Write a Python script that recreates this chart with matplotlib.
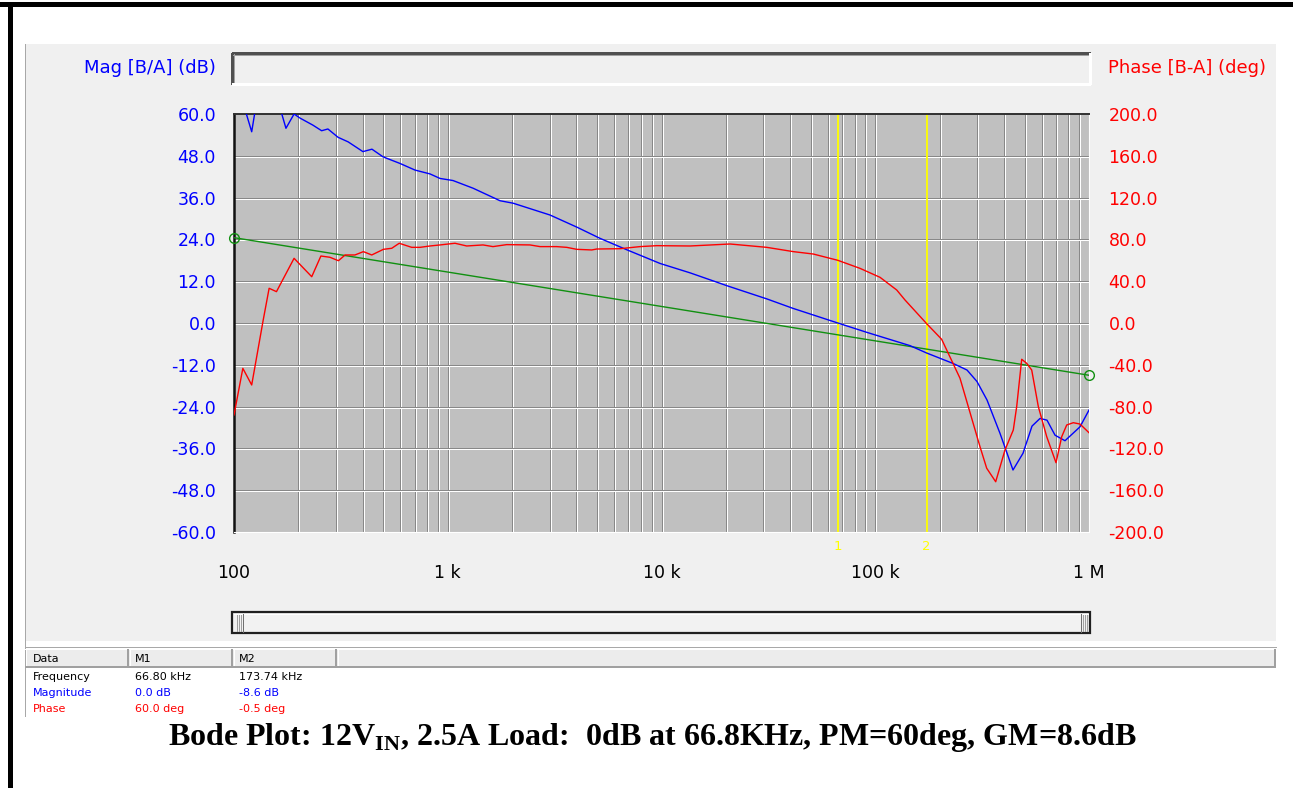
import numpy as np
import matplotlib
matplotlib.use("Agg")
import matplotlib.pyplot as plt
from matplotlib import transforms
from matplotlib.patches import Rectangle

W, H, DPI = 1293, 788, 100

# Marker readouts
m1_freq, m1_mag, m1_phase = 66.80e3, 0.0, 60.0
m2_freq, m2_mag, m2_phase = 173.74e3, -8.6, -0.5

# Loop gain magnitude (dB)
mag_freq = [100, 114, 121, 125, 135, 156, 167, 175, 191, 204,
            234, 257, 275, 307, 342, 401, 442, 498, 598, 703,
            826, 920, 1058, 1313, 1756, 2020, 3009, 4024, 5157, 6896,
            9840, 13600, 20470, 31160, 41230, 91500, 145400, 231000, 268700, 299200,
            333300, 383500, 441000, 491200, 541200, 590000, 636200, 693400, 772200, 907700,
            1000000]
mag_db = [63.5, 60.2, 54.9, 60.2, 63.0, 62.0, 60.2, 55.9, 60.0, 58.8,
          56.8, 55.2, 55.7, 53.3, 52.0, 49.2, 49.9, 47.7, 45.8, 43.9,
          42.8, 41.5, 40.9, 38.7, 35.1, 34.4, 31.0, 27.5, 24.3, 21.0,
          17.1, 14.4, 10.6, 6.9, 4.2, -2.7, -6.5, -11.6, -13.5, -16.8,
          -22.1, -31.7, -42.2, -37.4, -29.6, -27.4, -27.9, -32.2, -33.8, -29.8,
          -25.0]

# Loop gain phase (deg)
phase_freq = [100, 110, 121, 137, 146, 158, 191, 231, 255, 281,
              308, 331, 368, 403, 441, 500, 547, 593, 678, 742,
              826, 920, 1081, 1227, 1462, 1628, 1887, 2425, 2702, 3233,
              3602, 4012, 4716, 4978, 6395, 7931, 9495, 13600, 20920, 31070,
              41360, 51310, 84850, 105300, 126000, 137800, 204500, 249200, 309100, 332200,
              366000, 404600, 442400, 458900, 484300, 511100, 539500, 579300, 634200, 701000,
              745300, 786600, 844500, 907700, 1000000]
phase_deg = [-88, -43.4, -59.3, 2.9, 33.2, 30.0, 61.9, 44.3, 64.1, 62.9,
             59.6, 65.1, 65.1, 68.3, 65.1, 70.5, 71.5, 76.3, 72.4, 72.4,
             73.7, 74.7, 76.3, 73.7, 74.7, 73.1, 75.0, 74.7, 73.1, 73.1,
             72.4, 70.5, 69.9, 70.8, 71.1, 73.1, 74.0, 73.7, 75.6, 72.4,
             68.3, 66.0, 52.3, 43.7, 31.6, 22.0, -15.6, -52.9, -118.4, -139.0,
             -151.9, -121.5, -102.4, -80.0, -34.7, -38.6, -45.0, -80.0, -108.8, -133.7,
             -108.8, -97.6, -95.4, -96.7, -105.0]

# Reference slope trace (dB)
ref_freq = [100, 1e6]
ref_db = [24.5, -15.0]

mag_ticks = [60, 48, 36, 24, 12, 0, -12, -24, -36, -48, -60]
phase_ticks = [200, 160, 120, 80, 40, 0, -40, -80, -120, -160, -200]
freq_ticks = [1e2, 1e3, 1e4, 1e5, 1e6]
freq_labels = ["100", "1 k", "10 k", "100 k", "1 M"]


def with_markers(f, v, pts):
    f = np.array(list(f) + [p[0] for p in pts], float)
    v = np.array(list(v) + [p[1] for p in pts], float)
    o = np.argsort(f)
    return f[o], v[o]


mf, mv = with_markers(mag_freq, mag_db, [(m1_freq, m1_mag), (m2_freq, m2_mag)])
pf, pv = with_markers(phase_freq, phase_deg, [(m1_freq, m1_phase), (m2_freq, m2_phase)])

plt.rcParams['font.family'] = ['DejaVu Sans']
plt.rcParams['mathtext.fontset'] = 'custom'
plt.rcParams['mathtext.rm'] = 'Liberation Serif:bold'
plt.rcParams['mathtext.bf'] = 'Liberation Serif:bold'

fig = plt.figure(figsize=(W / DPI, H / DPI), dpi=DPI, facecolor='white')

# ---- window chrome drawn in pixel coordinates ----
deco = fig.add_axes([0, 0, 1, 1], zorder=0)
deco.set_xlim(0, W)
deco.set_ylim(H, 0)
deco.axis('off')

def hline(y, x0, x1, c, lw=0.72):
    deco.plot([x0, x1], [y, y], color=c, lw=lw, antialiased=False, solid_capstyle='butt')

def vline(x, y0, y1, c, lw=0.72):
    deco.plot([x, x], [y0, y1], color=c, lw=lw, antialiased=False, solid_capstyle='butt')

# outer frame
hline(4, 0, W, 'black', 2.2)
vline(10, 4, H, 'black', 2.2)

# main grey panel
deco.add_patch(Rectangle((25, 44), 1276 - 25, 641 - 44, fc='#f0f0f0', ec='none'))
vline(25, 44, 716, '#a8a8a8')
hline(647, 25, 1276, '#a8a8a8')

# header box above the plot
deco.add_patch(Rectangle((232, 53), 858, 31, fc='#f0f0f0', ec='none'))
hline(53, 232, 1090, '#505050', 1.0)
vline(232, 53, 84, '#505050', 1.0)
hline(54.5, 233, 1089, '#a0a0a0')
vline(233.5, 54, 84, '#a0a0a0')
hline(84, 232, 1090, 'white', 1.0)
vline(1090, 53, 84, 'white', 1.0)

# scrollbar
deco.add_patch(Rectangle((232, 612), 858, 21, fc='#f2f2f2', ec='#202020', lw=1.6))
hline(614, 234, 1088, 'white')
for gx in (237, 239, 241, 1083, 1085, 1087):
    vline(gx, 615, 631, '#a0a0a0')
vline(243, 614, 632, '#707070')
vline(1081, 614, 632, '#707070')

# data table header
for x0, x1 in ((25, 129), (129, 233), (233, 337), (337, 1276)):
    deco.add_patch(Rectangle((x0, 649), x1 - x0, 18, fc='#ececec', ec='none'))
    hline(649, x0, x1, 'white')
    vline(x0 + 1, 649, 667, 'white')
    vline(x1 - 1, 649, 667, '#a0a0a0', 1.2)
    hline(667, x0, x1, '#a0a0a0', 1.2)

tfs = 8
deco.text(33, 659, "Data", fontsize=tfs, va='center', color='black')
deco.text(135, 659, "M1", fontsize=tfs, va='center', color='black')
deco.text(239, 659, "M2", fontsize=tfs, va='center', color='black')
rows = [
    ("Frequency", 'black', f"{m1_freq / 1e3:.2f} kHz", f"{m2_freq / 1e3:.2f} kHz"),
    ("Magnitude", '#0000ff', f"{m1_mag:.1f} dB", f"{m2_mag:.1f} dB"),
    ("Phase", '#ff0000', f"{m1_phase:.1f} deg", f"{m2_phase:.1f} deg"),
]
for i, (name, c, v1, v2) in enumerate(rows):
    y = 677 + 16 * i
    deco.text(33, y, name, fontsize=tfs, va='center', color=c)
    deco.text(135, y, v1, fontsize=tfs, va='center', color=c)
    deco.text(239, y, v2, fontsize=tfs, va='center', color=c)

# ---- Bode plot ----
L, R, T, B = 234, 1089, 114, 532
ax = fig.add_axes([L / W, (H - B) / H, (R - L) / W, (B - T) / H], zorder=2)
ax.set_facecolor('#c0c0c0')
ax.set_xscale('log')
ax.set_xlim(1e2, 1e6)
ax.set_ylim(-60, 60)

px_right = transforms.ScaledTranslation(1 / DPI, 0, fig.dpi_scale_trans)
px_down = transforms.ScaledTranslation(0, -1 / DPI, fig.dpi_scale_trans)

grid_freqs = [m * 10 ** d for d in range(2, 6) for m in range(1, 10)][1:]
for f in grid_freqs:
    ax.plot([f, f], [0, 1], transform=ax.get_xaxis_transform(), color='#888888',
            lw=0.72, antialiased=False, zorder=1)
    ax.plot([f, f], [0, 1], transform=ax.get_xaxis_transform() + px_right, color='white',
            lw=0.72, antialiased=False, zorder=1)
for v in mag_ticks[1:-1]:
    ax.plot([0, 1], [v, v], transform=ax.get_yaxis_transform(), color='#888888',
            lw=0.72, antialiased=False, zorder=1)
    ax.plot([0, 1], [v, v], transform=ax.get_yaxis_transform() + px_down, color='white',
            lw=0.72, antialiased=False, zorder=1)

# marker cursors
for f, lab in ((m1_freq, "1"), (m2_freq, "2")):
    ax.axvline(f, color='#ffff00', lw=1.3, zorder=2)
    ax.text(f, -14 / (B - T), lab, transform=transforms.blended_transform_factory(ax.transData, ax.transAxes),
            ha='center', va='center', color='#ffff00', fontsize=9.5)

ax.plot(ref_freq, ref_db, color='#119011', lw=1.0, zorder=3)
ax.plot(ref_freq, ref_db, ls='none', marker='o', ms=7, mfc='none', mec='#119011',
        mew=1.0, zorder=3, clip_on=False)
ax.plot(mf, mv, color='#0000ff', lw=1.0, zorder=4)

ax.set_yticks(mag_ticks)
ax.set_yticklabels([f"{v:.1f}" for v in mag_ticks], color='#0000ff', fontsize=12.5)
ax.set_xticks(freq_ticks)
ax.set_xticklabels(freq_labels, color='black', fontsize=12.5)
ax.xaxis.set_minor_locator(matplotlib.ticker.NullLocator())
ax.tick_params(axis='y', length=0, pad=13)
ax.tick_params(axis='x', length=0, pad=23)
ax.spines['left'].set_color('#101010')
ax.spines['left'].set_linewidth(1.8)
ax.spines['top'].set_color('#303030')
ax.spines['top'].set_linewidth(1.4)
ax.spines['right'].set_color('white')
ax.spines['bottom'].set_color('white')

ax2 = ax.twinx()
ax2.set_ylim(-200, 200)
ax2.plot(pf, pv, color='#ff0000', lw=1.0, zorder=4)
ax2.set_yticks(phase_ticks)
ax2.set_yticklabels([f"{v:.1f}" for v in phase_ticks], color='#ff0000', fontsize=12.5)
ax2.tick_params(axis='y', length=0, pad=14)
for s in ax2.spines.values():
    s.set_visible(False)

fig.text(216 / W, 1 - 68 / H, "Mag [B/A] (dB)", color='#0000ff', fontsize=13,
         ha='right', va='center')
fig.text(1108 / W, 1 - 68 / H, "Phase [B-A] (deg)", color='#ff0000', fontsize=13,
         ha='left', va='center')

fig.text(652 / W, 1 - 738 / H,
         r"Bode Plot: 12V$_{\mathrm{IN}}$, 2.5A Load:  0dB at 66.8KHz, PM=60deg, GM=8.6dB",
         family='Liberation Serif', weight='bold', fontsize=23, ha='center', va='center')

fig.savefig("out.png", dpi=DPI, facecolor='white')
